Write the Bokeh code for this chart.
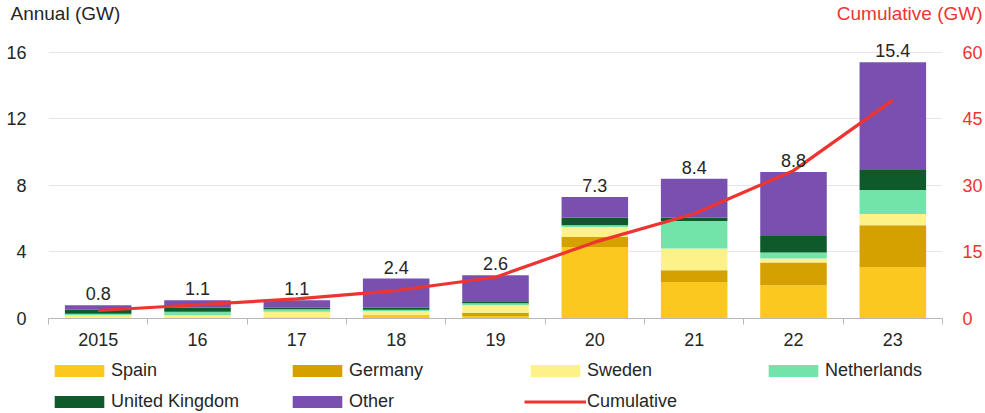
import numpy as np
from bokeh.plotting import figure
from bokeh.layouts import column, row
from bokeh.models import (Range1d, LinearAxis, FixedTicker, Legend, LegendItem,
                          Title, ColumnDataSource)
from bokeh.embed import file_html
from bokeh.resources import INLINE
from bokeh.core.properties import value

# ---------------- data ----------------
years = ["2015", "16", "17", "18", "19", "20", "21", "22", "23"]
spain = [0.02, 0.02, 0.03, 0.15, 0.15, 4.30, 2.20, 2.00, 3.10]
germany = [0.03, 0.03, 0.03, 0.05, 0.20, 0.60, 0.70, 1.36, 2.50]
sweden = [0.15, 0.15, 0.35, 0.25, 0.45, 0.60, 1.30, 0.24, 0.68]
netherlands = [0.08, 0.20, 0.15, 0.07, 0.12, 0.10, 1.66, 0.36, 1.44]
united_kingdom = [0.25, 0.25, 0.10, 0.14, 0.12, 0.45, 0.20, 1.00, 1.20]
other = [0.27, 0.45, 0.44, 1.74, 1.56, 1.25, 2.34, 3.84, 6.48]
totals = [0.8, 1.1, 1.1, 2.4, 2.6, 7.3, 8.4, 8.8, 15.4]
total_labels = ["0.8", "1.1", "1.1", "2.4", "2.6", "7.3", "8.4", "8.8", "15.4"]
cumulative = [1.8, 3.1, 4.4, 6.3, 9.3, 17.2, 23.6, 33.3, 49.2]
left_ticks = [0, 4, 8, 12, 16]
right_ticks = [0, 15, 30, 45, 60]
left_title = "Annual (GW)"
right_title = "Cumulative (GW)"

series_names = ["Spain", "Germany", "Sweden", "Netherlands", "United Kingdom", "Other"]
series_keys = ["spain", "germany", "sweden", "netherlands", "uk", "other"]
colors = ["#FAC81E", "#D5A100", "#FDF18A", "#72E4AA", "#0E5A2A", "#7950B0"]
red = "#EE3430"
ink = "#262626"
FONT = "Liberation Sans"
W = 985
BL, BR = 48, 35   # left / right borders shared by all strips

xc = np.arange(len(years)) + 0.5
source = ColumnDataSource(dict(
    x=xc, spain=spain, germany=germany, sweden=sweden, netherlands=netherlands,
    uk=united_kingdom, other=other, total=totals, label=total_labels,
    cum=cumulative,
))


def blank(width, height, **kw):
    # helper strip: its ranges lie far away from the data, so nothing is drawn
    f = figure(width=width, height=height, output_backend="svg",
               toolbar_location=None, x_axis_location=None, y_axis_location=None,
               x_range=Range1d(1000, 1001), y_range=Range1d(1000, 1001), **kw)
    f.outline_line_color = None
    f.grid.visible = False
    f.border_fill_color = "white"
    f.background_fill_color = "white"
    return f


# ---------------- top strip: axis titles ----------------
tl = blank(490, 35, min_border_left=BL, min_border_right=0,
           min_border_top=11, min_border_bottom=0)
tl.add_layout(Title(text=left_title, align="left", offset=-38, standoff=0,
                    text_font=FONT, text_font_size="19px",
                    text_font_style="normal", text_color=ink), "above")
tr = blank(W - 490, 35, min_border_left=0, min_border_right=BR,
           min_border_top=11, min_border_bottom=0)
tr.add_layout(Title(text=right_title, align="right", offset=-32, standoff=0,
                    text_font=FONT, text_font_size="19px",
                    text_font_style="normal", text_color=red), "above")

# ---------------- main chart ----------------
p = figure(width=W, height=320, output_backend="svg", toolbar_location=None,
           x_range=Range1d(0, len(years)), y_range=Range1d(0, 17.0),
           min_border_left=BL, min_border_right=BR, min_border_top=0,
           min_border_bottom=37)
p.outline_line_color = None
p.extra_y_ranges = {"cum": Range1d(0, 63.75)}

p.xgrid.grid_line_color = None
p.ygrid.ticker = FixedTicker(ticks=left_ticks)
p.ygrid.grid_line_color = "#e6e6e6"

p.vbar_stack(series_keys, x="x", width=0.67, color=colors,
             line_color=None, source=source)
p.line("x", "cum", source=source, y_range_name="cum",
       line_color=red, line_width=3.2)
p.text("x", "total", text="label", source=source, text_align="center",
       text_baseline="bottom", y_offset=-5, text_font=value(FONT),
       text_font_size="18px", text_color=ink)

xa = p.xaxis[0]
xa.ticker = FixedTicker(ticks=list(xc), minor_ticks=list(range(len(years) + 1)))
xa.major_label_overrides = {float(v): lab for v, lab in zip(xc, years)}
xa.major_tick_out = 0
xa.major_tick_in = 0
xa.minor_tick_out = 6
xa.minor_tick_in = 0
xa.minor_tick_line_color = "#b8b8b8"
xa.axis_line_color = "#b8b8b8"
xa.major_label_text_font = FONT
xa.major_label_text_font_size = "18px"
xa.major_label_text_color = ink
xa.major_label_standoff = 8

ya = p.yaxis[0]
ya.ticker = FixedTicker(ticks=left_ticks)
ya.axis_line_color = None
ya.major_tick_line_color = None
ya.minor_tick_line_color = None
ya.major_label_text_font = FONT
ya.major_label_text_font_size = "18px"
ya.major_label_text_color = ink
ya.major_label_standoff = 16

ra = LinearAxis(y_range_name="cum", ticker=FixedTicker(ticks=right_ticks))
ra.axis_line_color = None
ra.major_tick_line_color = None
ra.minor_tick_line_color = None
ra.major_label_text_font = FONT
ra.major_label_text_font_size = "18px"
ra.major_label_text_color = red
ra.major_label_standoff = 14
p.add_layout(ra, "right")

# ---------------- legend strip (legend inside its own frame) ----------------
leg = blank(W, 58, min_border_left=BL, min_border_right=BR,
            min_border_top=0, min_border_bottom=0)
lbars = leg.vbar_stack(series_keys, x="x", width=0.67, color=colors,
                       line_color=None, source=source)
lline = leg.line("x", "cum", source=source, line_color=red, line_width=3)
items = [LegendItem(label=n, renderers=[r]) for n, r in zip(series_names, lbars)]
items.append(LegendItem(label="Cumulative", renderers=[lline]))
legend = Legend(items=items, orientation="horizontal", ncols=4,
                glyph_width=62, glyph_height=15, label_width=165,
                label_standoff=1, spacing=10, padding=2, margin=0,
                label_text_font=FONT, label_text_font_size="18px",
                label_text_color=ink, border_line_color=None,
                background_fill_alpha=0, location=(0, 1))
leg.add_layout(legend, "center")

layout = column(row(tl, tr, spacing=0), p, leg, spacing=0)
open("out.html", "w").write(file_html(layout, INLINE))
